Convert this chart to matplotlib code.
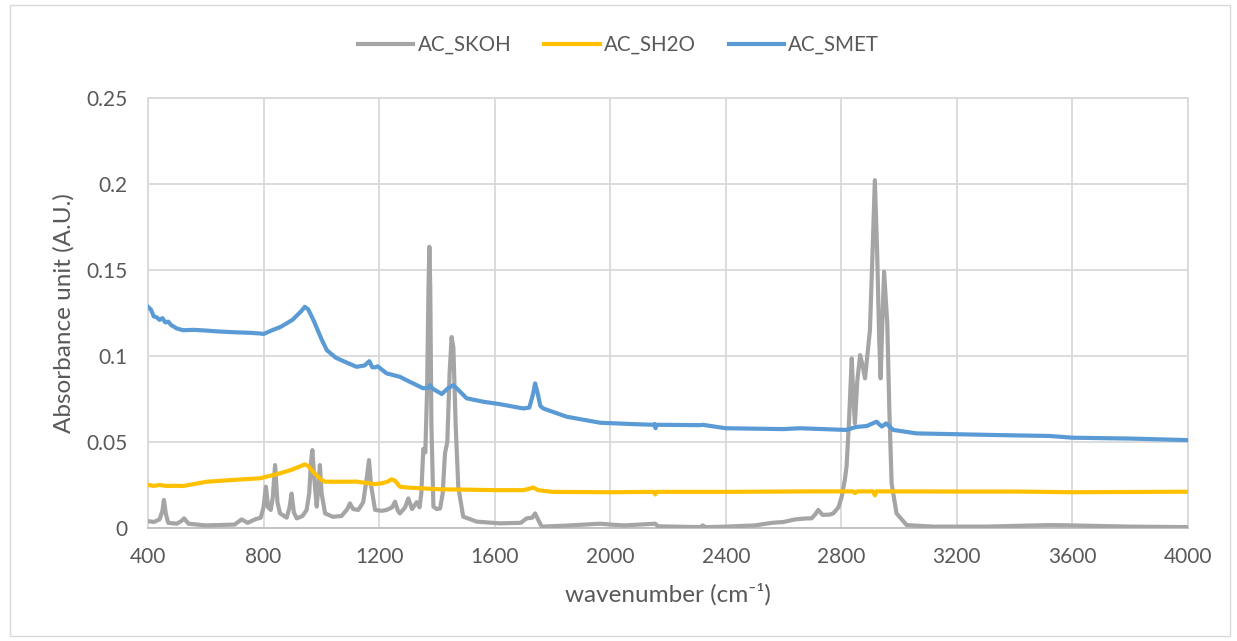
import matplotlib
matplotlib.use("Agg")
import matplotlib.pyplot as plt
from matplotlib.patches import Rectangle

plt.rcParams['font.family'] = ['Lato', 'DejaVu Sans']

# ---- data (wavenumber, absorbance) ----
skoh_x = [400, 420, 440, 450, 455, 462, 470, 500, 515, 525, 540, 600, 700, 724, 745, 770, 790,
          800, 808, 816, 825, 832, 840, 848, 857, 880, 890, 897, 905, 915, 935, 949, 958, 964,
          969, 975, 984, 990, 995, 1001, 1013, 1040, 1070, 1090, 1099, 1110, 1128, 1145, 1158,
          1165, 1172, 1186, 1210, 1226, 1245, 1255, 1265, 1272, 1290, 1301, 1314, 1330, 1340,
          1346, 1353, 1360, 1366, 1371, 1374, 1377, 1381, 1388, 1400, 1411, 1420, 1428, 1436,
          1444, 1451, 1457, 1465, 1474, 1491, 1538, 1618, 1690, 1711, 1730, 1740, 1750, 1763,
          1849, 1965, 2000, 2050, 2156, 2165, 2311, 2320, 2330, 2400, 2500, 2560, 2600, 2640,
          2680, 2697, 2710, 2720, 2735, 2760, 2772, 2790, 2801, 2812, 2818, 2826, 2836, 2842,
          2847, 2855, 2865, 2873, 2882, 2890, 2899, 2908, 2916, 2924, 2931, 2936, 2942, 2948,
          2953, 2959, 2966, 2974, 2991, 3026, 3118, 3300, 3522, 3600, 3800, 4000]
skoh_y = [0.004, 0.0035, 0.005, 0.010, 0.0163, 0.008, 0.003, 0.0025, 0.004, 0.0056, 0.0025,
          0.0015, 0.002, 0.005, 0.003, 0.005, 0.006, 0.012, 0.024, 0.012, 0.0105, 0.018, 0.0366,
          0.015, 0.0085, 0.006, 0.012, 0.020, 0.009, 0.0056, 0.007, 0.0105, 0.020, 0.038, 0.0453,
          0.030, 0.0124, 0.025, 0.0366, 0.020, 0.0085, 0.0065, 0.007, 0.011, 0.0143, 0.011,
          0.0105, 0.015, 0.030, 0.0395, 0.025, 0.0105, 0.010, 0.0105, 0.012, 0.0153, 0.010,
          0.0085, 0.012, 0.0172, 0.011, 0.015, 0.012, 0.020, 0.046, 0.044, 0.080, 0.140, 0.1635,
          0.140, 0.060, 0.0124, 0.011, 0.0114, 0.020, 0.0434, 0.050, 0.090, 0.111, 0.105, 0.060,
          0.024, 0.0066, 0.0037, 0.0027, 0.003, 0.0056, 0.006, 0.0085, 0.005, 0.0008, 0.0014,
          0.0025, 0.002, 0.0015, 0.0025, 0.001, 0.0005, 0.0015, 0.0005, 0.0008, 0.0015, 0.003,
          0.0035, 0.005, 0.0056, 0.0056, 0.008, 0.0105, 0.0076, 0.0078, 0.0085, 0.012, 0.018,
          0.028, 0.0356, 0.060, 0.0986, 0.075, 0.0608, 0.085, 0.1005, 0.095, 0.087, 0.100,
          0.115, 0.160, 0.2022, 0.160, 0.110, 0.087, 0.120, 0.149, 0.135, 0.119, 0.070, 0.026,
          0.0085, 0.0017, 0.0008, 0.0008, 0.0017, 0.0015, 0.0008, 0.0005]

sh2o_x = [400, 420, 440, 460, 500, 521, 540, 603, 700, 788, 857, 900, 943, 955, 975, 1000,
          1013, 1099, 1120, 1140, 1160, 1180, 1210, 1230, 1243, 1255, 1272, 1300, 1411, 1500,
          1600, 1700, 1734, 1750, 1800, 2000, 2150, 2156, 2160, 2400, 2700, 2840, 2847, 2855,
          2910, 2916, 2922, 3200, 3400, 3600, 4000]
sh2o_y = [0.025, 0.0245, 0.025, 0.0245, 0.0245, 0.0244, 0.025, 0.0269, 0.028, 0.0289, 0.0318,
          0.034, 0.037, 0.036, 0.032, 0.028, 0.0269, 0.0269, 0.027, 0.0265, 0.0262, 0.0255,
          0.026, 0.027, 0.0283, 0.0275, 0.024, 0.0235, 0.0225, 0.0223, 0.022, 0.022, 0.0235,
          0.022, 0.021, 0.0208, 0.021, 0.0195, 0.021, 0.021, 0.0213, 0.0213, 0.0203, 0.0213,
          0.0213, 0.019, 0.0213, 0.0212, 0.0212, 0.0208, 0.0211]

smet_x = [400, 410, 420, 430, 440, 450, 460, 470, 480, 500, 521, 560, 600, 650, 700, 750, 788,
          800, 830, 860, 900, 930, 943, 955, 975, 1000, 1019, 1050, 1090, 1122, 1150, 1166,
          1176, 1186, 1195, 1226, 1272, 1300, 1353, 1370, 1376, 1385, 1417, 1440, 1457, 1470,
          1503, 1561, 1618, 1699, 1720, 1733, 1740, 1748, 1758, 1768, 1849, 1965, 2080, 2150,
          2154, 2157, 2160, 2311, 2320, 2400, 2600, 2657, 2818, 2850, 2888, 2922, 2940, 2955,
          2980, 3061, 3349, 3522, 3600, 3800, 4000]
smet_y = [0.1286, 0.127, 0.123, 0.1225, 0.121, 0.122, 0.1195, 0.120, 0.118, 0.116, 0.115,
          0.1152, 0.1148, 0.1142, 0.1138, 0.1135, 0.1131, 0.1128, 0.115, 0.117, 0.121, 0.126,
          0.1286, 0.127, 0.120, 0.110, 0.1034, 0.099, 0.096, 0.0937, 0.0945, 0.097, 0.0935,
          0.0934, 0.094, 0.0899, 0.0879, 0.0855, 0.0812, 0.0815, 0.083, 0.081, 0.0779, 0.0815,
          0.083, 0.081, 0.0754, 0.0734, 0.072, 0.0695, 0.070, 0.078, 0.0841, 0.079, 0.071,
          0.0695, 0.0647, 0.0612, 0.0604, 0.0600, 0.0605, 0.058, 0.060, 0.0598, 0.060, 0.058,
          0.0575, 0.058, 0.057, 0.0587, 0.0593, 0.0618, 0.059, 0.0608, 0.057, 0.055, 0.054,
          0.0535, 0.0525, 0.052, 0.0511]

x_ticks = [400, 800, 1200, 1600, 2000, 2400, 2800, 3200, 3600, 4000]
y_ticks = [0, 0.05, 0.1, 0.15, 0.2, 0.25]
y_tick_labels = ["0", "0.05", "0.1", "0.15", "0.2", "0.25"]

# ---- figure ----
W, H = 1237, 641
fig = plt.figure(figsize=(W / 100, H / 100), dpi=100)
fig.patches.append(Rectangle((10 / W, 5 / H), 1220 / W, 631 / H, transform=fig.transFigure,
                             fill=False, edgecolor='#D9D9D9', linewidth=1.0))
ax = fig.add_axes([148 / W, 1 - 528 / H, (1188 - 148) / W, (528 - 98) / H])

lw = 3.0
ax.plot(skoh_x, skoh_y, color='#A5A5A5', lw=lw, label='AC_SKOH', solid_joinstyle='round', zorder=3)
ax.plot(sh2o_x, sh2o_y, color='#FFC000', lw=lw, label='AC_SH2O', solid_joinstyle='round', zorder=3)
ax.plot(smet_x, smet_y, color='#5B9BD5', lw=lw, label='AC_SMET', solid_joinstyle='round', zorder=3)

ax.set_xlim(400, 4000)
ax.set_ylim(0, 0.25)
ax.set_xticks(x_ticks)
ax.set_xticklabels([str(t) for t in x_ticks])
ax.set_yticks(y_ticks)
ax.set_yticklabels(y_tick_labels)
ax.grid(True, color='#D9D9D9', linewidth=1.3)
ax.set_axisbelow(True)
for s in ['top', 'right', 'left']:
    ax.spines[s].set_color('#D9D9D9')
    ax.spines[s].set_linewidth(1.3)
ax.spines['bottom'].set_color('#BFBFBF')
ax.spines['bottom'].set_linewidth(1.3)
ax.tick_params(axis='both', length=0, labelsize=15, labelcolor='#595959')
ax.tick_params(axis='x', pad=14)
ax.tick_params(axis='y', pad=15)

ax.set_xlabel('wavenumber (cm\u207b\u00b9)', fontsize=17.5, color='#595959', labelpad=11)
ax.set_ylabel('Absorbance unit (A.U.)', fontsize=17.5, color='#595959', labelpad=8)

leg = fig.legend(loc='center', bbox_to_anchor=(0.5, 1 - 45 / H), ncol=3, frameon=False,
                 fontsize=14.8, handlelength=2.7, columnspacing=1.6, handletextpad=0.2)
for t in leg.get_texts():
    t.set_color('#595959')

fig.savefig('out.png', dpi=100)
